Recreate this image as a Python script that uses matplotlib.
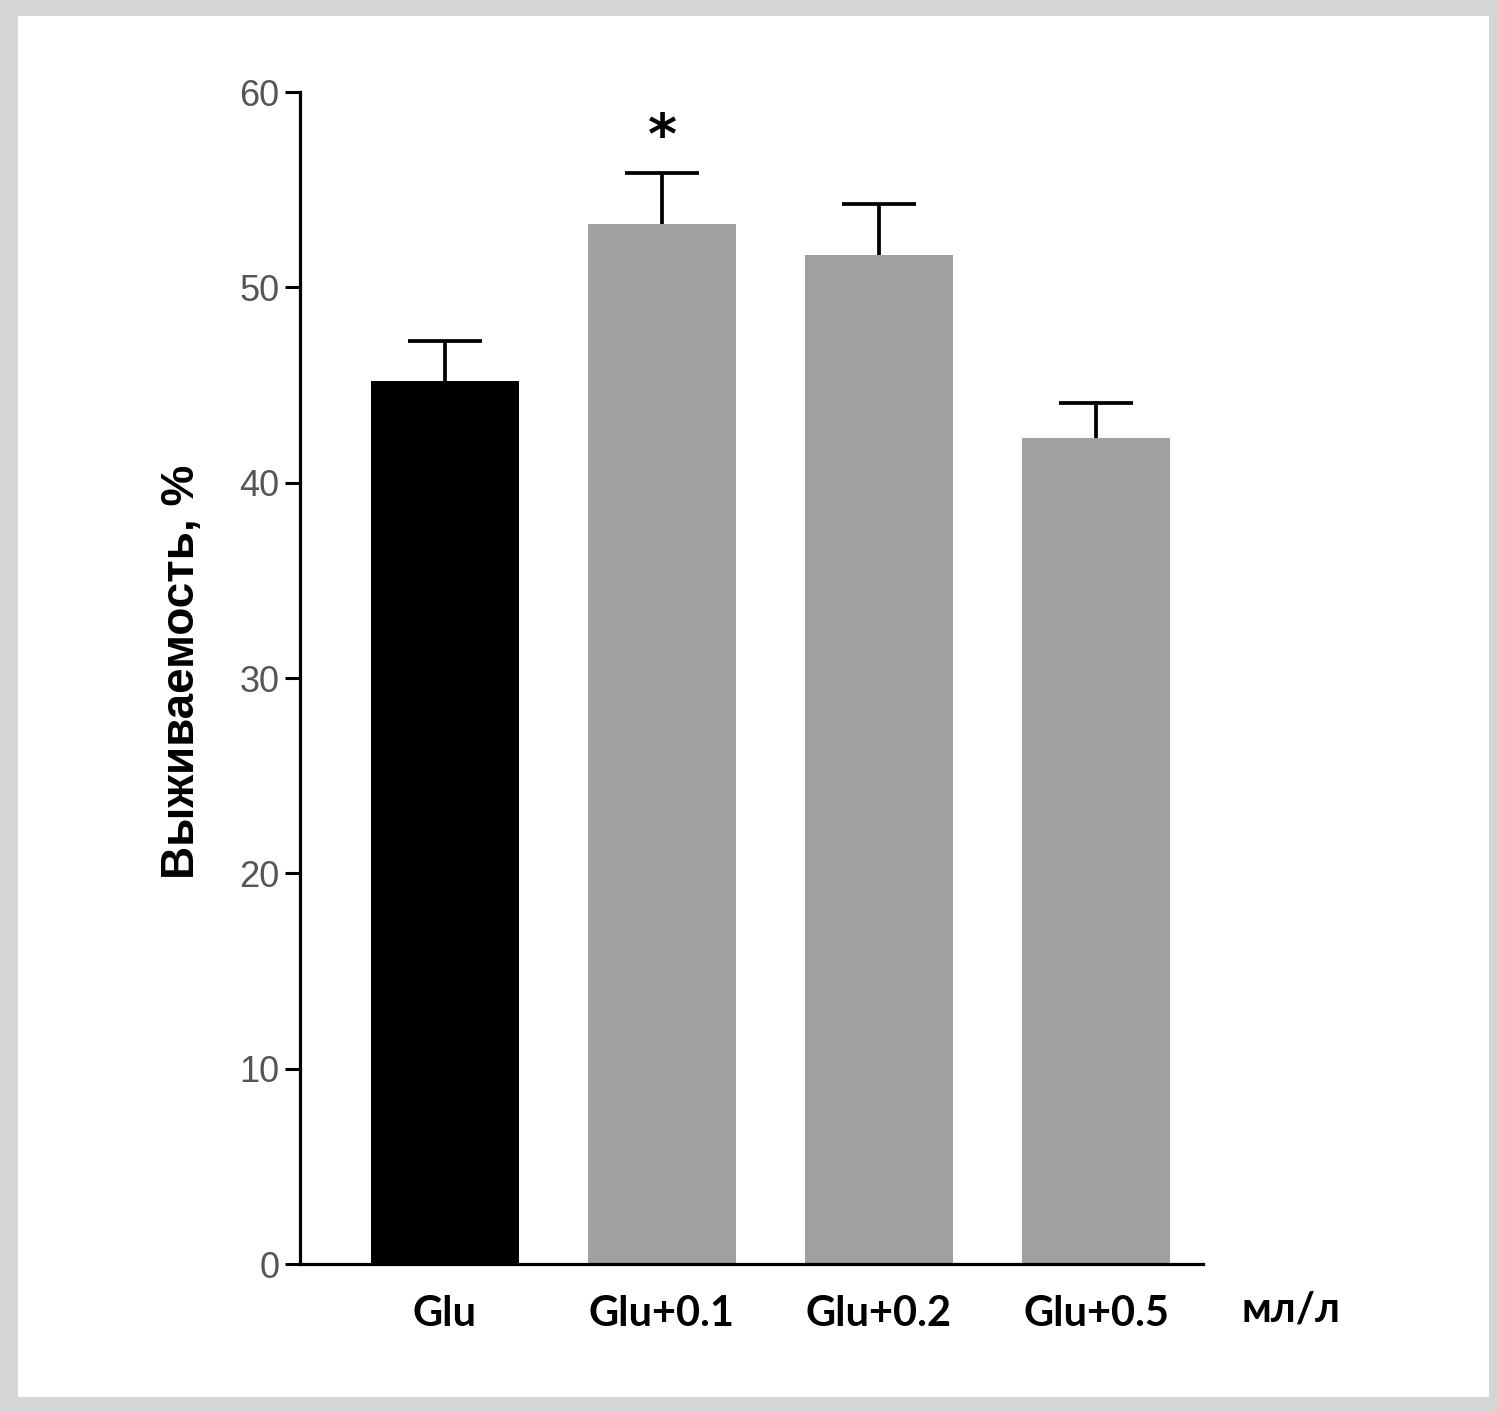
import matplotlib
matplotlib.use('Agg')
import matplotlib.pyplot as plt
import numpy as np
from matplotlib.patches import Rectangle

# Data
groups = ['Glu', 'Glu+0.1', 'Glu+0.2', 'Glu+0.5']
survival = [45.2, 53.25, 51.65, 42.3]
sem = [2.05, 2.6, 2.6, 1.8]
bar_colors = ['#000000', '#a0a0a0', '#a0a0a0', '#a0a0a0']
star_group = 1
yticks = [0, 10, 20, 30, 40, 50, 60]

fig = plt.figure(figsize=(14.98, 14.12), dpi=100, facecolor='#d4d5d7')
# white panel inside the grey frame
fig.patches.append(Rectangle((18 / 1498, 1 - 1397 / 1412), (1489 - 18) / 1498, (1397 - 16) / 1412,
                             transform=fig.transFigure, facecolor='white', edgecolor='none', zorder=-1))

ax = fig.add_axes([300 / 1498, 1 - 1264 / 1412, (1203 - 300) / 1498, (1264 - 92) / 1412])
ax.set_facecolor('none')

x = np.arange(len(groups))
tops = np.array(survival) + np.array(sem)
ax.bar(x, survival, width=0.68, color=bar_colors, zorder=2)
# upper error bars only
ax.vlines(x, survival, tops, color='black', linewidth=2.7, zorder=1)
ax.hlines(tops, x - 0.17, x + 0.17, color='black', linewidth=2.7, zorder=1)

# significance mark
ax.text(x[star_group], tops[star_group] + 0.4, '*', ha='center', va='bottom',
        fontsize=40, fontweight='bold', family='DejaVu Sans')

ax.set_xlim(-0.668, 3.493)
ax.set_ylim(0, 60)

for side in ['top', 'right']:
    ax.spines[side].set_visible(False)
for side in ['left', 'bottom']:
    ax.spines[side].set_linewidth(2.3)

ax.set_yticks(yticks)
ax.set_yticklabels([str(v) for v in yticks], family='Liberation Sans', fontsize=26, color='#555555')
ax.tick_params(axis='y', length=11, width=2.2, pad=4, direction='out')

ax.set_xticks(x)
ax.set_xticklabels(groups, family='Lato', fontweight='bold', fontsize=30)
ax.tick_params(axis='x', length=0, pad=22)

ax.text(3.9, -2.35, 'мл/л', ha='center', va='center', family='Lato', fontweight='bold', fontsize=30)

ax.set_ylabel('Выживаемость, %', family='Liberation Sans', fontweight='bold', fontsize=33,
              va='center')
ax.yaxis.set_label_coords(-0.131, 0.505)

fig.savefig('out.png', dpi=100, facecolor=fig.get_facecolor())
